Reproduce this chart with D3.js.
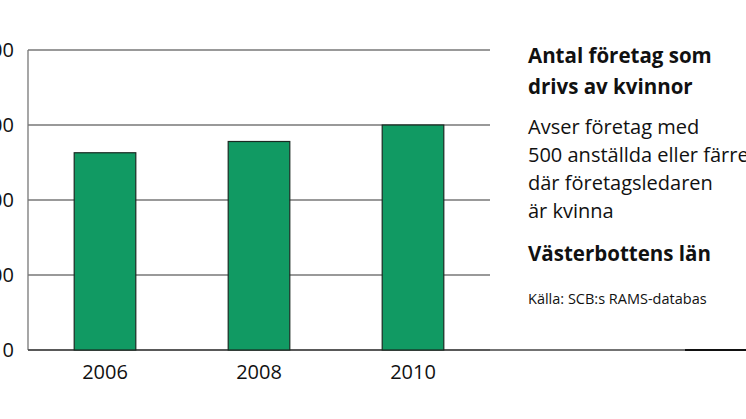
<!DOCTYPE html>
<html><head><meta charset="utf-8">
<script src="https://cdn.jsdelivr.net/npm/d3@7"></script>
<style>body{margin:0;background:#fff}svg{display:block;font-family:"Open Sans",sans-serif}</style>
</head><body>
<svg id="c" width="746" height="419"></svg>
<script>
const years = ["2006","2008","2010"];
const values = [2630, 2780, 3000];
const yTicks = [0,1000,2000,3000,4000];
const yTickLabels = ["0","1000","2000","3000","4000"];
const titleLines = ["Antal företag som","drivs av kvinnor"];
const noteLines = ["Avser företag med","500 anställda eller färre","där företagsledaren","är kvinna"];
const region = "Västerbottens län";
const source = "Källa: SCB:s RAMS-databas";

const svg = d3.select("#c");
const x = d3.scaleBand().domain(years).range([28,490]).paddingInner(0.6).paddingOuter(0.3);
const y = d3.scaleLinear().domain([0,4000]).range([350,50]);

svg.append("g").selectAll("line").data(yTicks).join("line")
  .attr("x1",28).attr("x2",490).attr("y1",d=>y(d)).attr("y2",d=>y(d))
  .attr("stroke","#777").attr("stroke-width",1.3);
svg.append("line").attr("x1",28).attr("x2",28).attr("y1",50).attr("y2",350).attr("stroke","#777").attr("stroke-width",1.3);
svg.append("line").attr("x1",28).attr("x2",746).attr("y1",350).attr("y2",350).attr("stroke","#444").attr("stroke-width",1.3);
svg.append("line").attr("x1",685).attr("x2",746).attr("y1",350).attr("y2",350).attr("stroke","#111").attr("stroke-width",2);

svg.append("g").selectAll("text").data(yTicks).join("text")
  .attr("x",14).attr("y",d=>y(d)+7).attr("text-anchor","end")
  .attr("font-size",20).attr("fill","#111").text((d,i)=>yTickLabels[i]);

svg.append("g").selectAll("rect").data(values).join("rect")
  .attr("x",(d,i)=>x(years[i])).attr("width",x.bandwidth())
  .attr("y",d=>y(d)).attr("height",d=>350-y(d))
  .attr("fill","#119a63").attr("stroke","#1a2a22").attr("stroke-width",1.2);

svg.append("g").selectAll("text").data(years).join("text")
  .attr("x",d=>x(d)+x.bandwidth()/2).attr("y",379).attr("text-anchor","middle")
  .attr("font-size",20).attr("fill","#111").text(d=>d);

const tx = 528;
svg.append("g").selectAll("text").data(titleLines).join("text")
  .attr("x",tx).attr("y",(d,i)=>63+i*31).attr("font-size",20.5).attr("font-weight","bold").attr("fill","#111").text(d=>d);
svg.append("g").selectAll("text").data(noteLines).join("text")
  .attr("x",tx).attr("y",(d,i)=>134+i*28).attr("font-size",20).attr("fill","#111").text(d=>d);
svg.append("text").attr("x",tx).attr("y",261).attr("font-size",20.5).attr("font-weight","bold").attr("fill","#111").text(region);
svg.append("text").attr("x",tx).attr("y",304).attr("font-size",14.5).attr("fill","#111").text(source);
</script>
</body></html>
